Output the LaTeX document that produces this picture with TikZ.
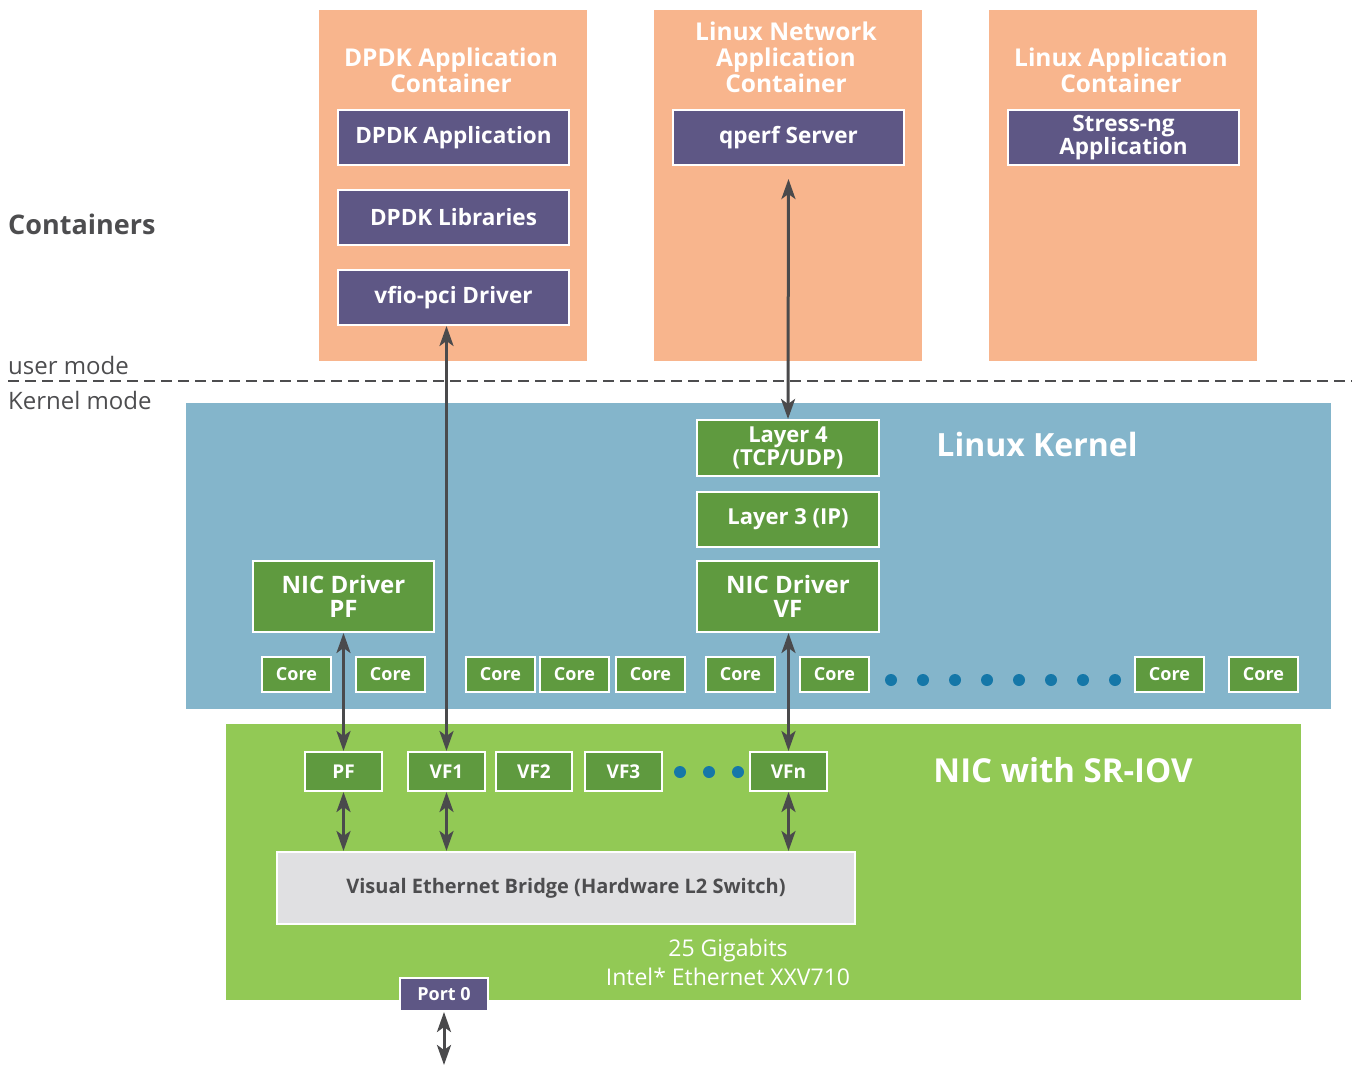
\documentclass[tikz,border=0pt]{standalone}
\usepackage{fontspec}
\setmainfont{Open Sans}
\usetikzlibrary{arrows.meta,calc}
\definecolor{orangec}{HTML}{F8B58D}
\definecolor{purp}{HTML}{5E5785}
\definecolor{kblue}{HTML}{84B5CB}
\definecolor{gbox}{HTML}{5F9A3F}
\definecolor{nicg}{HTML}{92C955}
\definecolor{bridgeg}{HTML}{E0E0E2}
\definecolor{dotb}{HTML}{1577A8}
\definecolor{darkt}{HTML}{4D4D4F}
\definecolor{arrowc}{HTML}{4A4A4C}
\newcommand{\fs}[2]{\fontsize{#1}{#2}\selectfont}
\tikzset{
  x=1pt, y=-1pt,
  panel/.style={fill=#1, draw=none, inner sep=0pt},
  pbox/.style={fill=purp, draw=white, line width=2pt, text=white, inner sep=0pt,
    align=center, font=\bfseries\fs{22.5}{21}},
  gnode/.style={fill=gbox, draw=white, line width=2pt, text=white, inner sep=0pt,
    align=center, font=\bfseries\fs{22}{23}},
  corebox/.style={gnode, minimum width=69pt, minimum height=35pt, font=\bfseries\fs{18}{20}},
  fnbox/.style={gnode, minimum width=77pt, minimum height=39pt, font=\bfseries\fs{19}{20}},
  title/.style={text=white, align=center, font=\bfseries\fs{24.5}{26}},
  tip/.style={Stealth[length=20pt,width=14pt,inset=5pt]},
  dualarrow/.style={arrowc, line width=3pt, {Stealth[length=20pt,width=14pt,inset=5pt]}-{Stealth[length=20pt,width=14pt,inset=5pt]}},
  bluedot/.style={circle, fill=dotb, inner sep=0pt, minimum size=12pt},
}
\begin{document}
\begin{tikzpicture}
\useasboundingbox (0,0) rectangle (1358,1065);

% container panels
\node[panel=orangec, minimum width=268pt, minimum height=351pt] (contA) at (453,185.5) {};
\node[panel=orangec, minimum width=268pt, minimum height=351pt] (contB) at (788,185.5) {};
\node[panel=orangec, minimum width=268pt, minimum height=351pt] (contC) at (1123,185.5) {};
\node[title] (titleA) at (451,70) {DPDK Application\\Container};
\node[title] (titleB) at (786,57) {Linux Network\\Application\\Container};
\node[title] (titleC) at (1121,70) {Linux Application\\Container};

\node[pbox, minimum width=231pt, minimum height=55pt] (dpdkapp) at (453.5,137.5) {DPDK Application};
\node[pbox, minimum width=231pt, minimum height=55pt] (dpdklib) at (453.5,217.5) {DPDK Libraries};
\node[pbox, minimum width=231pt, minimum height=55pt] (vfio) at (453.5,297.5) {vfio-pci Driver};
\node[pbox, minimum width=231pt, minimum height=55pt] (qperf) at (788.5,137.5) {qperf Server};
\node[pbox, minimum width=231pt, minimum height=55pt] (stress) at (1123.5,137.5) {Stress-ng\\Application};

% side labels
\node[anchor=west, text=darkt, font=\bfseries\fs{27}{30}, inner sep=0pt] (lblcont) at (8,224) {Containers};
\node[anchor=base west, text=darkt, font=\fs{24}{26}, inner sep=0pt] (lbluser) at (8,374) {user mode};
\node[anchor=base west, text=darkt, font=\fs{24}{26}, inner sep=0pt] (lblkern) at (8,409) {Kernel mode};
\coordinate (dashL) at (8,381);
\coordinate (dashR) at (1352,381);
\draw[darkt, line width=1.6pt, dash pattern=on 11pt off 6pt] (dashL) -- (dashR);

% Linux kernel
\node[panel=kblue, minimum width=1145pt, minimum height=306pt] (kernel) at (758.5,556) {};
\node[text=white, font=\bfseries\fs{32}{34}] (kerntitle) at (1037,444) {Linux Kernel};
\node[gnode, minimum width=182pt, minimum height=56pt] (l4) at (788,448) {Layer 4\\(TCP/UDP)};
\node[gnode, minimum width=182pt, minimum height=55pt] (l3) at (788,519.5) {Layer 3 (IP)};
\node[gnode, minimum width=182pt, minimum height=71pt, font=\bfseries\fs{24}{24}] (nicvf) at (788,596.5) {NIC Driver\\VF};
\node[gnode, minimum width=181pt, minimum height=71pt, font=\bfseries\fs{24}{24}] (nicpf) at (343.5,596.5) {NIC Driver\\PF};

\foreach \cx [count=\i] in {296.5,390.5,500.5,574.5,650.5,740.5,834.5,1169.5,1263.5}
  \node[corebox] (core\i) at (\cx,674.5) {Core};
\foreach \dx [count=\i] in {891,923,955,987,1019,1051,1083,1115}
  \node[bluedot] (kdot\i) at (\dx,680) {};

% NIC with SR-IOV
\node[panel=nicg, minimum width=1075pt, minimum height=276pt] (nic) at (763.5,862) {};
\node[text=white, font=\bfseries\fs{33}{34}] (nictitle) at (1063,770) {NIC with SR-IOV};
\node[fnbox] (pf) at (343.5,771.5) {PF};
\node[fnbox] (vf1) at (446.5,771.5) {VF1};
\node[fnbox, minimum width=76pt] (vf2) at (534,771.5) {VF2};
\node[fnbox] (vf3) at (623.5,771.5) {VF3};
\node[fnbox] (vfn) at (788.5,771.5) {VFn};
\foreach \dx [count=\i] in {680,709,738}
  \node[bluedot] (ndot\i) at (\dx,772) {};
\node[fill=bridgeg, draw=white, line width=2pt, inner sep=0pt, minimum width=578pt, minimum height=72pt,
  text=darkt, font=\bfseries\fs{20}{22}] (bridge) at (566,888) {Visual Ethernet Bridge (Hardware L2 Switch)};
\node[text=white, align=center, font=\fs{23}{29}] (niclabel) at (728,962) {25 Gigabits\\Intel* Ethernet XXV710};
\node[pbox, minimum width=88pt, minimum height=33pt, font=\bfseries\fs{18}{20}] (port0) at (444,994.5) {Port 0};
\coordinate (wire) at (444,1065);

% connectors
\draw[dualarrow, shorten <=13pt] (qperf.south) -- (l4.north);
\draw[dualarrow] (vfio.south -| vf1.north) -- (vf1.north);
\draw[dualarrow] (nicpf.south) -- (pf.north);
\draw[dualarrow] (nicvf.south -| vfn.north) -- (vfn.north);
\draw[dualarrow] (pf.south) -- (pf.south |- bridge.north);
\draw[dualarrow] (vf1.south) -- (vf1.south |- bridge.north);
\draw[dualarrow] (vfn.south) -- (vfn.south |- bridge.north);
\draw[dualarrow] (port0.south) -- (wire);
\end{tikzpicture}
\end{document}
